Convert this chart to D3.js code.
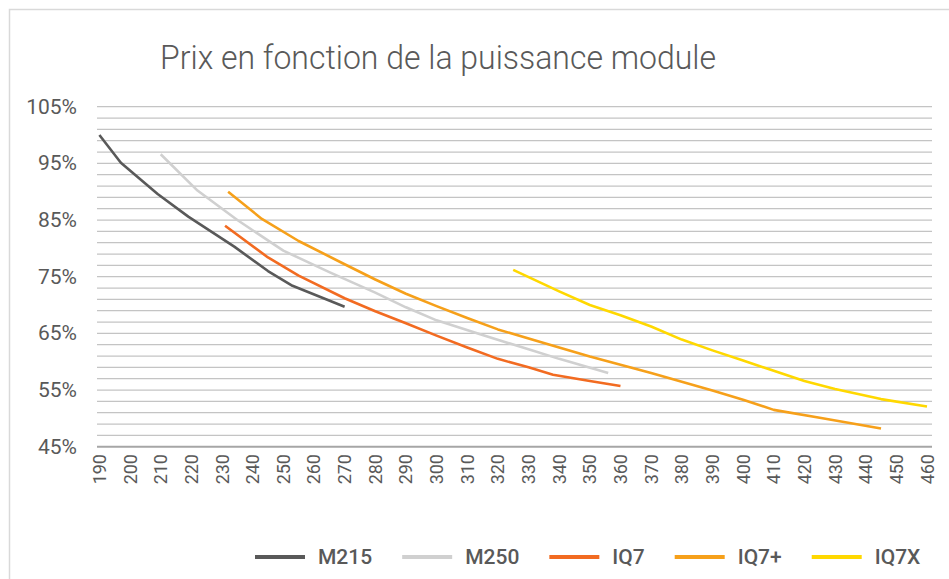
<!DOCTYPE html>
<html>
<head>
<meta charset="utf-8">
<script src="https://cdn.jsdelivr.net/npm/d3@7"></script>
<style>
  body { margin: 0; background: #fff; }
  svg { display: block; font-family: Roboto, "Noto Sans", sans-serif; }
</style>
</head>
<body>
<div id="chart"></div>
<script>
// puissance module (W) / prix relatif (%)
const seriesNames = ["M215", "M250", "IQ7", "IQ7+", "IQ7X"];
const seriesColors = ["#595959", "#d0d0d0", "#f26b21", "#f6a01a", "#ffd800"];

const m215 = [[190, 100], [197, 95.1], [209, 89.6], [219, 85.6], [234, 80.3], [245, 76], [253, 73.4], [270, 69.7]];
const m250 = [[210, 96.6], [222, 90.2], [235, 85.0], [250, 79.6], [265, 75.8], [280, 72.2], [290, 69.6], [300, 67.3], [315, 64.7], [330, 62.2], [340, 60.5], [356, 58]];
const iq7 = [[231, 84], [245, 78.4], [255, 75.2], [270, 71.2], [280, 68.9], [290, 66.8], [300, 64.6], [310, 62.5], [320, 60.5], [330, 59.0], [338, 57.7], [350, 56.6], [360, 55.7]];
const iq7plus = [[232, 90], [243, 85.2], [255, 81.3], [270, 77.2], [280, 74.5], [290, 72.0], [300, 69.8], [310, 67.7], [320, 65.7], [335, 63.3], [350, 60.9], [370, 58.0], [390, 54.9], [400, 53.3], [410, 51.5], [425, 50.1], [445, 48.2]];
const iq7x = [[325, 76.2], [340, 72.4], [350, 70.0], [360, 68.2], [370, 66.2], [380, 63.9], [390, 62.0], [400, 60.2], [410, 58.4], [420, 56.6], [430, 55.2], [445, 53.4], [460, 52.1]];
const seriesData = [m215, m250, iq7, iq7plus, iq7x];

const xTicks = d3.range(190, 461, 10);
const yGrid = d3.range(45, 106, 2);
const yTicks = [45, 55, 65, 75, 85, 95, 105];

const W = 949, H = 579;
const svg = d3.select("#chart").append("svg").attr("width", W).attr("height", H);

// cadre
svg.append("rect").attr("x", 9.5).attr("y", 9.5).attr("width", W).attr("height", H)
  .attr("fill", "none").attr("stroke", "#d9d9d9").attr("stroke-width", 1.5);

svg.append("text").attr("x", 160).attr("y", 69).attr("fill", "#595959")
  .attr("textLength", 556).attr("lengthAdjust", "spacingAndGlyphs")
  .style("font-size", "33px").style("font-weight", 300)
  .text("Prix en fonction de la puissance module");

const x = d3.scaleLinear().domain([190, 460]).range([99.4, 927]);
const y = d3.scaleLinear().domain([45, 105]).range([446.7, 106.7]);
const gridLeft = 97, gridRight = 932;

svg.append("g").selectAll("line").data(yGrid).enter().append("line")
  .attr("x1", gridLeft).attr("x2", gridRight)
  .attr("y1", d => y(d)).attr("y2", d => y(d))
  .attr("stroke", d => d === 45 ? "#a6a6a6" : "#c4c4c4")
  .attr("stroke-width", d => d === 45 ? 2 : 1.3);

svg.append("g").selectAll("text").data(yTicks).enter().append("text")
  .attr("x", 77).attr("y", d => y(d)).attr("text-anchor", "end")
  .attr("dominant-baseline", "central").attr("fill", "#595959")
  .style("font-size", "21px").text(d => d + "%");

svg.append("g").selectAll("text").data(xTicks).enter().append("text")
  .attr("transform", d => `translate(${x(d)},454) rotate(-90)`)
  .attr("text-anchor", "end").attr("dominant-baseline", "central")
  .attr("fill", "#595959").style("font-size", "18px").text(d => d);

const line = d3.line().x(d => x(d[0])).y(d => y(d[1]));
svg.append("g").selectAll("path").data(seriesData).enter().append("path")
  .attr("d", line).attr("fill", "none")
  .attr("stroke", (d, i) => seriesColors[i]).attr("stroke-width", 2.6)
  .attr("stroke-linejoin", "round");

// legende
const legend = svg.append("g");
let lx = 255;
seriesNames.forEach((name, i) => {
  legend.append("line").attr("x1", lx).attr("x2", lx + 50).attr("y1", 557).attr("y2", 557)
    .attr("stroke", seriesColors[i]).attr("stroke-width", 4);
  const t = legend.append("text").attr("x", lx + 63).attr("y", 557)
    .attr("dominant-baseline", "central").attr("fill", "#595959")
    .style("font-size", "21px").style("font-weight", 500).text(name);
  lx += 63 + t.node().getComputedTextLength() + 30;
});
</script>
</body>
</html>
